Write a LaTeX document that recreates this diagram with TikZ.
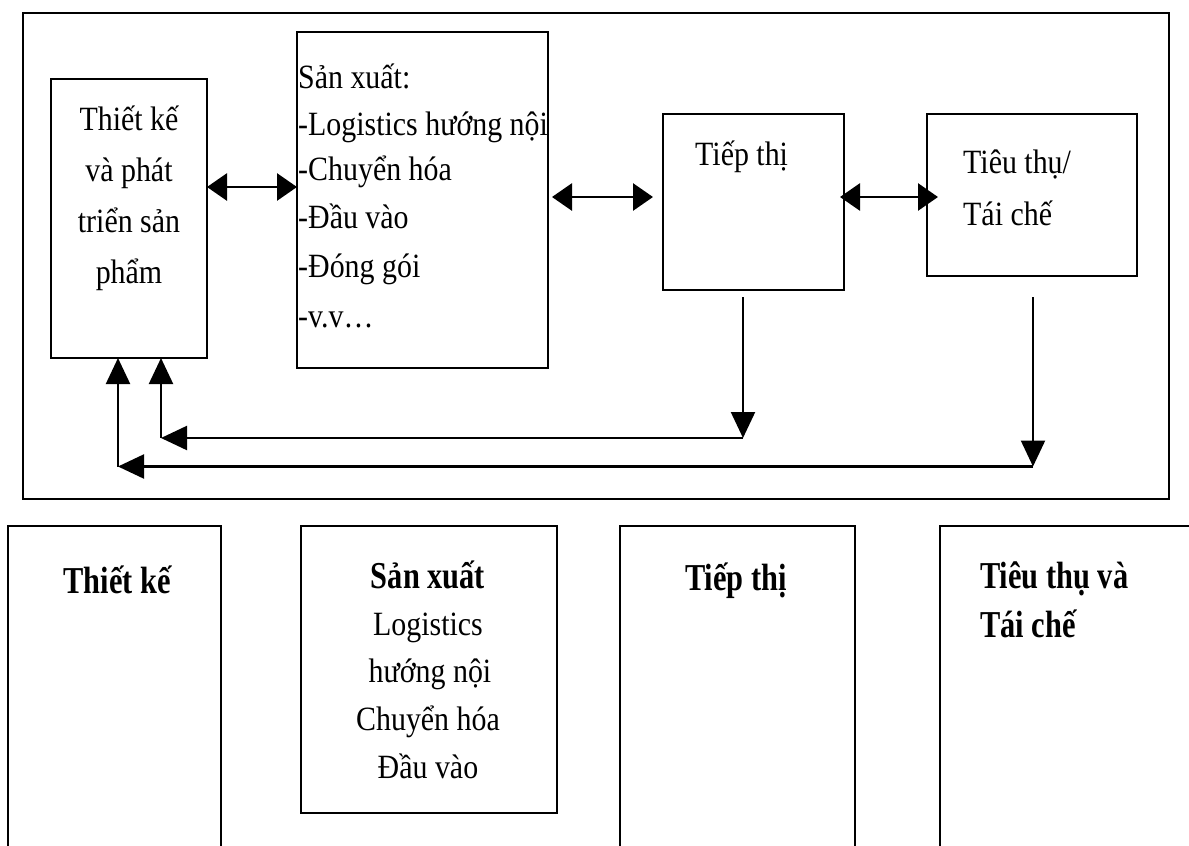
\documentclass[tikz,border=0pt]{standalone}
\usepackage{fontspec}
\setmainfont{Liberation Serif}
\newfontfamily\topfont{Liberation Serif}[FakeStretch=0.88]
\newfontfamily\botfont{Liberation Serif}[FakeStretch=0.8]
\usetikzlibrary{arrows.meta}
\tikzset{
  box/.style={draw, line width=2.8pt, inner sep=0pt, outer sep=0pt},
  dbl/.style={line width=2.8pt, {Triangle[length=20pt,width=27pt]}-{Triangle[length=20pt,width=27pt]}},
  ret/.style={line width=2.2pt, -{Triangle[length=26pt,width=24pt]}},
  tt/.style={inner sep=0pt, font=\topfont\fontsize{34}{40}\selectfont},
  bt/.style={inner sep=0pt, font=\botfont\fontsize{38}{44}\bfseries\selectfont},
  br/.style={inner sep=0pt, font=\topfont\fontsize{34}{40}\selectfont},
}
\begin{document}
\begin{tikzpicture}[x=1pt,y=-1pt]
\useasboundingbox (0,0) rectangle (1189,846);
\clip (0,0) rectangle (1189,846);
\fill[white] (0,0) rectangle (1189,846);

% outer frame
\node[box, minimum width=1146pt, minimum height=486pt] (outer) at (596,256) {};

% top boxes
\node[box, minimum width=156pt, minimum height=279pt] (A) at (129,218.5) {};
\node[box, minimum width=251pt, minimum height=336pt] (B) at (422.5,200) {};
\node[box, minimum width=181pt, minimum height=176pt] (C) at (753.5,202) {};
\node[box, minimum width=210pt, minimum height=162pt] (D) at (1032,195) {};

% texts of box A
\node[tt, anchor=base] (a1) at (129,130) {Thiết kế};
\node[tt, anchor=base] (a2) at (129,181) {và phát};
\node[tt, anchor=base] (a3) at (129,232) {triển sản};
\node[tt, anchor=base] (a4) at (129,283) {phẩm};

% texts of box B
\node[tt, anchor=base west] (b1) at (298,88) {Sản xuất:};
\node[tt, anchor=base west] (b2) at (298,135) {-Logistics hướng nội};
\node[tt, anchor=base west] (b3) at (298,180) {-Chuyển hóa};
\node[tt, anchor=base west] (b4) at (298,228) {-Đầu vào};
\node[tt, anchor=base west] (b5) at (298,277) {-Đóng gói};
\node[tt, anchor=base west] (b6) at (298,327) {-v.v…};

% box C and D texts
\node[tt, anchor=base west] (c1) at (695,165) {Tiếp thị};
\node[tt, anchor=base west] (d1) at (963,173) {Tiêu thụ/};
\node[tt, anchor=base west] (d2) at (963,225) {Tái chế};

% horizontal double arrows
\coordinate (yab) at (250,187);
\coordinate (ybc) at (600,197);
\coordinate (ycd) at (885,197);
\draw[dbl] (A.east |- yab) -- (B.west |- yab);
\draw[dbl, shorten <=4pt, shorten >=10pt] (B.east |- ybc) -- (C.west |- ybc);
\draw[dbl, shorten <=-4pt, shorten >=-11pt] (C.east |- ycd) -- (D.west |- ycd);

% return arrows
\coordinate (t1) at (743,438);
\coordinate (l1) at (161,438);
\coordinate (t2) at (1033,466.5);
\coordinate (l2) at (118,466.5);
\draw[ret] ([yshift=-7pt]C.south -| t1) -- (t1);
\draw[ret] (t1) -- (l1);
\draw[ret] (l1) -- (l1 |- A.south);
\draw[ret] ([yshift=-21pt]D.south -| t2) -- (t2);
\draw[ret] (t2) -- (l2);
\draw[ret] (l2) -- (l2 |- A.south);

% bottom boxes
\node[box, minimum width=213pt, minimum height=374pt] (P1) at (114.5,713) {};
\node[box, minimum width=256pt, minimum height=287pt] (P2) at (429,669.5) {};
\node[box, minimum width=235pt, minimum height=374pt] (P3) at (737.5,713) {};
\node[box, minimum width=310pt, minimum height=374pt] (P4) at (1095,713) {};

\node[bt, anchor=base] (p1) at (117,593) {Thiết kế};
\node[bt, anchor=base] (p2a) at (428,588) {Sản xuất};
\node[br, anchor=base] (p2b) at (428,635) {Logistics};
\node[br, anchor=base] (p2c) at (430,682) {hướng nội};
\node[br, anchor=base] (p2d) at (428,730) {Chuyển hóa};
\node[br, anchor=base] (p2e) at (428,778) {Đầu vào};
\node[bt, anchor=base] (p3) at (736,590) {Tiếp thị};
\node[bt, anchor=base west] (p4a) at (980,588) {Tiêu thụ và};
\node[bt, anchor=base west] (p4b) at (980,637) {Tái chế};
\end{tikzpicture}
\end{document}
